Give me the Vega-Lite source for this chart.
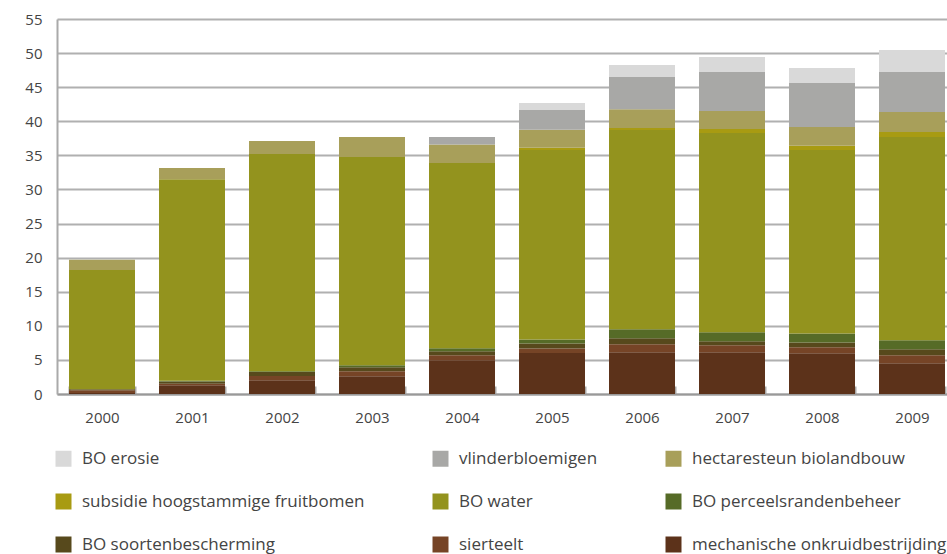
{
  "$schema": "https://vega.github.io/schema/vega-lite/v6.json",
  "autosize": {"type": "none"},
  "padding": {"left": 57, "top": 19, "right": 0, "bottom": 160},
  "width": 900,
  "height": 375,
  "background": "white",
  "config": {
    "view": {"stroke": null},
    "font": "Open Sans",
    "axis": {"labelFont": "Open Sans", "labelFontSize": 15, "labelColor": "#444444", "titleFont": "Open Sans"},
    "legend": {"labelFont": "Open Sans", "labelFontSize": 17, "labelColor": "#444444"}
  },
  "data": {
    "values": [
      {"year": "2000", "s": "mechanische onkruidbestrijding", "v": 0.15, "k": 1},
      {"year": "2000", "s": "sierteelt", "v": 0.4, "k": 2},
      {"year": "2000", "s": "BO soortenbescherming", "v": 0.15, "k": 3},
      {"year": "2000", "s": "BO water", "v": 17.5, "k": 5},
      {"year": "2000", "s": "hectaresteun biolandbouw", "v": 1.5, "k": 7},

      {"year": "2001", "s": "mechanische onkruidbestrijding", "v": 1.27, "k": 1},
      {"year": "2001", "s": "sierteelt", "v": 0.24, "k": 2},
      {"year": "2001", "s": "BO soortenbescherming", "v": 0.34, "k": 3},
      {"year": "2001", "s": "BO perceelsrandenbeheer", "v": 0.1, "k": 4},
      {"year": "2001", "s": "BO water", "v": 29.55, "k": 5},
      {"year": "2001", "s": "hectaresteun biolandbouw", "v": 1.65, "k": 7},

      {"year": "2002", "s": "mechanische onkruidbestrijding", "v": 2.0, "k": 1},
      {"year": "2002", "s": "sierteelt", "v": 0.64, "k": 2},
      {"year": "2002", "s": "BO soortenbescherming", "v": 0.59, "k": 3},
      {"year": "2002", "s": "BO perceelsrandenbeheer", "v": 0.1, "k": 4},
      {"year": "2002", "s": "BO water", "v": 31.87, "k": 5},
      {"year": "2002", "s": "hectaresteun biolandbouw", "v": 1.9, "k": 7},

      {"year": "2003", "s": "mechanische onkruidbestrijding", "v": 2.59, "k": 1},
      {"year": "2003", "s": "sierteelt", "v": 0.73, "k": 2},
      {"year": "2003", "s": "BO soortenbescherming", "v": 0.59, "k": 3},
      {"year": "2003", "s": "BO perceelsrandenbeheer", "v": 0.29, "k": 4},
      {"year": "2003", "s": "BO water", "v": 30.56, "k": 5},
      {"year": "2003", "s": "hectaresteun biolandbouw", "v": 2.94, "k": 7},

      {"year": "2004", "s": "mechanische onkruidbestrijding", "v": 4.94, "k": 1},
      {"year": "2004", "s": "sierteelt", "v": 0.73, "k": 2},
      {"year": "2004", "s": "BO soortenbescherming", "v": 0.59, "k": 3},
      {"year": "2004", "s": "BO perceelsrandenbeheer", "v": 0.44, "k": 4},
      {"year": "2004", "s": "BO water", "v": 27.18, "k": 5},
      {"year": "2004", "s": "hectaresteun biolandbouw", "v": 2.72, "k": 7},
      {"year": "2004", "s": "vlinderbloemigen", "v": 1.1, "k": 8},

      {"year": "2005", "s": "mechanische onkruidbestrijding", "v": 6.01, "k": 1},
      {"year": "2005", "s": "sierteelt", "v": 0.68, "k": 2},
      {"year": "2005", "s": "BO soortenbescherming", "v": 0.73, "k": 3},
      {"year": "2005", "s": "BO perceelsrandenbeheer", "v": 0.59, "k": 4},
      {"year": "2005", "s": "BO water", "v": 27.78, "k": 5},
      {"year": "2005", "s": "subsidie hoogstammige fruitbomen", "v": 0.34, "k": 6},
      {"year": "2005", "s": "hectaresteun biolandbouw", "v": 2.64, "k": 7},
      {"year": "2005", "s": "vlinderbloemigen", "v": 2.88, "k": 8},
      {"year": "2005", "s": "BO erosie", "v": 1.03, "k": 9},

      {"year": "2006", "s": "mechanische onkruidbestrijding", "v": 6.11, "k": 1},
      {"year": "2006", "s": "sierteelt", "v": 1.17, "k": 2},
      {"year": "2006", "s": "BO soortenbescherming", "v": 0.88, "k": 3},
      {"year": "2006", "s": "BO perceelsrandenbeheer", "v": 1.32, "k": 4},
      {"year": "2006", "s": "BO water", "v": 29.24, "k": 5},
      {"year": "2006", "s": "subsidie hoogstammige fruitbomen", "v": 0.28, "k": 6},
      {"year": "2006", "s": "hectaresteun biolandbouw", "v": 2.75, "k": 7},
      {"year": "2006", "s": "vlinderbloemigen", "v": 4.75, "k": 8},
      {"year": "2006", "s": "BO erosie", "v": 1.75, "k": 9},

      {"year": "2007", "s": "mechanische onkruidbestrijding", "v": 6.11, "k": 1},
      {"year": "2007", "s": "sierteelt", "v": 1.03, "k": 2},
      {"year": "2007", "s": "BO soortenbescherming", "v": 0.59, "k": 3},
      {"year": "2007", "s": "BO perceelsrandenbeheer", "v": 1.32, "k": 4},
      {"year": "2007", "s": "BO water", "v": 29.23, "k": 5},
      {"year": "2007", "s": "subsidie hoogstammige fruitbomen", "v": 0.59, "k": 6},
      {"year": "2007", "s": "hectaresteun biolandbouw", "v": 2.63, "k": 7},
      {"year": "2007", "s": "vlinderbloemigen", "v": 5.73, "k": 8},
      {"year": "2007", "s": "BO erosie", "v": 2.2, "k": 9},

      {"year": "2008", "s": "mechanische onkruidbestrijding", "v": 5.96, "k": 1},
      {"year": "2008", "s": "sierteelt", "v": 0.88, "k": 2},
      {"year": "2008", "s": "BO soortenbescherming", "v": 0.73, "k": 3},
      {"year": "2008", "s": "BO perceelsrandenbeheer", "v": 1.32, "k": 4},
      {"year": "2008", "s": "BO water", "v": 26.9, "k": 5},
      {"year": "2008", "s": "subsidie hoogstammige fruitbomen", "v": 0.63, "k": 6},
      {"year": "2008", "s": "hectaresteun biolandbouw", "v": 2.74, "k": 7},
      {"year": "2008", "s": "vlinderbloemigen", "v": 6.44, "k": 8},
      {"year": "2008", "s": "BO erosie", "v": 2.2, "k": 9},

      {"year": "2009", "s": "mechanische onkruidbestrijding", "v": 4.5, "k": 1},
      {"year": "2009", "s": "sierteelt", "v": 1.17, "k": 2},
      {"year": "2009", "s": "BO soortenbescherming", "v": 0.88, "k": 3},
      {"year": "2009", "s": "BO perceelsrandenbeheer", "v": 1.32, "k": 4},
      {"year": "2009", "s": "BO water", "v": 29.82, "k": 5},
      {"year": "2009", "s": "subsidie hoogstammige fruitbomen", "v": 0.74, "k": 6},
      {"year": "2009", "s": "hectaresteun biolandbouw", "v": 2.93, "k": 7},
      {"year": "2009", "s": "vlinderbloemigen", "v": 5.87, "k": 8},
      {"year": "2009", "s": "BO erosie", "v": 3.22, "k": 9}
    ]
  },
  "mark": {"type": "bar"},
  "encoding": {
    "x": {
      "field": "year", "type": "nominal", "title": null,
      "scale": {"paddingInner": 0.2667, "paddingOuter": 0.1333},
      "axis": {
        "labelAngle": 0, "domainColor": "#999999", "domainWidth": 2,
        "ticks": true, "tickBand": "extent", "tickSize": -8, "tickColor": "#aaaaaa", "tickWidth": 2,
        "labelPadding": 24, "labelBaseline": "top"
      }
    },
    "y": {
      "field": "v", "type": "quantitative", "aggregate": "sum", "stack": "zero", "title": null,
      "scale": {"domain": [0, 55], "nice": false},
      "axis": {
        "values": [0, 5, 10, 15, 20, 25, 30, 35, 40, 45, 50, 55],
        "domainColor": "#aaaaaa", "domainWidth": 2, "ticks": false,
        "grid": true, "gridColor": "#b0b0b0", "gridWidth": 2,
        "labelPadding": 15
      }
    },
    "order": {"field": "k", "type": "quantitative", "aggregate": "min"},
    "color": {
      "field": "s", "type": "nominal",
      "scale": {
        "domain": ["BO erosie", "vlinderbloemigen", "hectaresteun biolandbouw", "subsidie hoogstammige fruitbomen", "BO water", "BO perceelsrandenbeheer", "BO soortenbescherming", "sierteelt", "mechanische onkruidbestrijding"],
        "range": ["#d9d9d9", "#a8a8a6", "#a89f5a", "#a89b12", "#93931e", "#566b27", "#57491c", "#764426", "#5c321a"]
      },
      "legend": {
        "title": null, "orient": "none", "legendX": -2, "legendY": 431, "direction": "horizontal",
        "columns": 3, "gridAlign": "each", "columnPadding": 67, "rowPadding": 25,
        "symbolType": "square", "symbolSize": 256, "symbolStrokeWidth": 0, "symbolOpacity": 1,
        "labelOffset": 10, "labelLimit": 400
      }
    }
  }
}
